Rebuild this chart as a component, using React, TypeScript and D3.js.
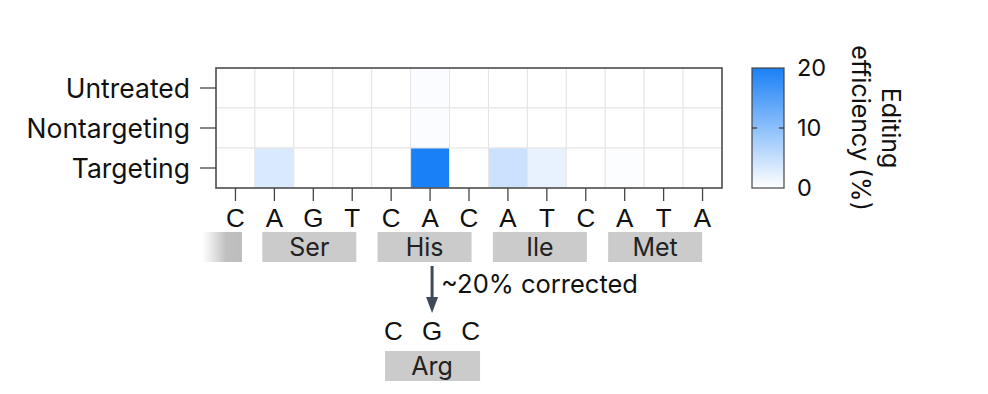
import React from "react";
import * as d3 from "d3";

// heatmap rows / columns
const conditions = ["Untreated", "Nontargeting", "Targeting"];
const bases = ["C", "A", "G", "T", "C", "A", "C", "A", "T", "C", "A", "T", "A"];
const untreated = [0, 0, 0, 0, 0, 0.4, 0, 0, 0, 0, 0, 0, 0];
const nontargeting = [0, 0, 0, 0, 0, 0.4, 0, 0, 0, 0, 0, 0, 0];
const targeting = [0, 3.3, 0, 0, 0, 20, 0, 4.6, 2, 0, 0.3, 0, 0];
const legendTicks = [0, 10, 20];

// codons: amino acid name and the middle base column
const aminoAcids = ["Ser", "His", "Ile", "Met"];
const codonMid = [2, 5, 8, 11];
const correctedBases = ["C", "G", "C"];
const correctedAA = "Arg";

const width = 988;
const height = 394;
const left = 216, right = 722, top = 68, bottom = 188;
const blue = "#1a80f6";
const font = "Inter, 'Noto Sans', sans-serif";
const baseFont = "'Liberation Sans', Arial, sans-serif";

export default function App() {
  const values = [untreated, nontargeting, targeting];
  const x = d3.scaleBand<number>().domain(d3.range(bases.length)).range([left, right]);
  const y = d3.scaleBand<string>().domain(conditions).range([top, bottom]);
  const color = d3.scaleLinear<string>().domain([0, 20]).range(["#ffffff", blue]).clamp(true);
  const legY = d3.scaleLinear().domain([0, 20]).range([bottom, top]);
  const bw = x.bandwidth();

  const cells = values.flatMap((row, r) =>
    row.map((v, c) => ({ r: conditions[r], c, v }))
  );

  const arrowX = x(5)! + bw / 2 + 2;
  const cgcX = d3.scaleBand<number>().domain([0, 1, 2]).range([arrowX - 58, arrowX + 58]);

  return (
    <svg width={width} height={height} style={{ display: "block", margin: -8 }}>
      <defs>
        <linearGradient id="leg" x1="0" y1="1" x2="0" y2="0">
          <stop offset="0" stopColor="#ffffff" />
          <stop offset="1" stopColor={blue} />
        </linearGradient>
        <linearGradient id="fade" x1="0" y1="0" x2="1" y2="0">
          <stop offset="0" stopColor="#c8c8c8" stopOpacity="0" />
          <stop offset="0.6" stopColor="#c0c0c0" stopOpacity="1" />
          <stop offset="1" stopColor="#bdbdbd" stopOpacity="1" />
        </linearGradient>
      </defs>

      {/* cells */}
      {cells.map((d, i) => (
        <rect
          key={i}
          x={x(d.c)!}
          y={y(d.r)!}
          width={bw}
          height={y.bandwidth()}
          fill={color(d.v)}
          stroke="#e6e6e6"
          strokeWidth={1}
        />
      ))}
      <rect x={left} y={top} width={right - left} height={bottom - top} fill="none" stroke="#444" strokeWidth={1.5} />

      {/* y axis */}
      {conditions.map((c) => {
        const cy = y(c)! + y.bandwidth() / 2;
        return (
          <g key={c}>
            <line x1={200} x2={left} y1={cy} y2={cy} stroke="#444" strokeWidth={1.3} />
            <text x={190} y={cy} dy="0.36em" textAnchor="end" fontFamily={font} fontSize={26.5} fill="#111">
              {c}
            </text>
          </g>
        );
      })}

      {/* x axis ticks + bases */}
      {bases.map((b, i) => {
        const cx = x(i)! + bw / 2;
        return (
          <g key={i}>
            <line x1={cx} x2={cx} y1={bottom} y2={201} stroke="#444" strokeWidth={1.3} />
            <text x={cx} y={227} textAnchor="middle" fontFamily={baseFont} fontSize={26} fill="#111">
              {b}
            </text>
          </g>
        );
      })}

      {/* amino acid boxes */}
      <rect x={202} y={232} width={40} height={30} fill="url(#fade)" />
      {aminoAcids.map((a, i) => {
        const cx = x(codonMid[i])! + bw / 2 - 4 - i * 1.5;
        return (
          <g key={a}>
            <rect x={cx - 47} y={232} width={94} height={30} fill="#cbcbcb" />
            <text x={cx} y={256} textAnchor="middle" fontFamily={font} fontSize={25} fill="#222">
              {a}
            </text>
          </g>
        );
      })}

      {/* arrow */}
      <line x1={arrowX} x2={arrowX} y1={266} y2={300} stroke="#3e4a5a" strokeWidth={3} />
      <path d={`M${arrowX - 6},297 L${arrowX + 6},297 L${arrowX},313 Z`} fill="#3e4a5a" />
      <text x={arrowX + 9} y={293} fontFamily={font} fontSize={25.5} fill="#111">
        ~20% corrected
      </text>

      {/* corrected codon */}
      {correctedBases.map((b, i) => (
        <text key={i} x={cgcX(i)! + cgcX.bandwidth() / 2} y={340} textAnchor="middle" fontFamily={baseFont} fontSize={26} fill="#111">
          {b}
        </text>
      ))}
      <rect x={arrowX - 47} y={351} width={95} height={30} fill="#cbcbcb" />
      <text x={arrowX} y={375} textAnchor="middle" fontFamily={font} fontSize={25} fill="#222">
        {correctedAA}
      </text>

      {/* colour legend */}
      <rect x={752} y={top} width={32} height={bottom - top} fill="url(#leg)" stroke="#444" strokeWidth={1.2} />
      {legendTicks.map((t) => (
        <g key={t}>
          {t > 0 && t < 20 && (
            <>
              <line x1={752} x2={757} y1={legY(t)} y2={legY(t)} stroke="#333" strokeWidth={1.2} />
              <line x1={779} x2={784} y1={legY(t)} y2={legY(t)} stroke="#333" strokeWidth={1.2} />
            </>
          )}
          <text x={797} y={legY(t)} dy="0.36em" fontFamily={font} fontSize={23.5} fill="#111">
            {t}
          </text>
        </g>
      ))}
      <text transform={`translate(871,128) rotate(90)`} textAnchor="middle" fontFamily={font} fontSize={25} fill="#111">
        <tspan x={0} dy="-0.45em">Editing</tspan>
        <tspan x={0} dy="1.2em">efficiency (%)</tspan>
      </text>
    </svg>
  );
}
